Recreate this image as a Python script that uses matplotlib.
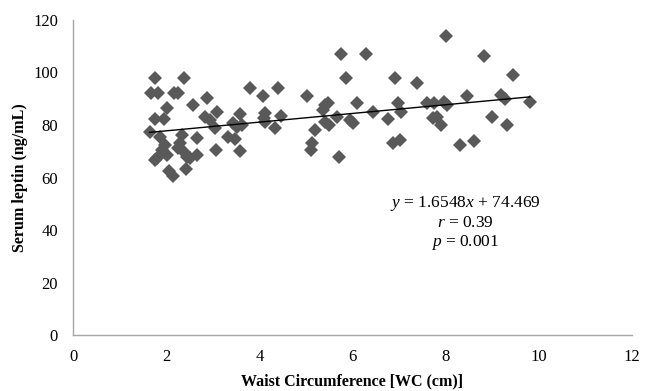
import numpy as np
import matplotlib
matplotlib.use("Agg")
import matplotlib.pyplot as plt

plt.rcParams["font.family"] = ["Liberation Serif", "DejaVu Serif"]
plt.rcParams["mathtext.fontset"] = "custom"
plt.rcParams["mathtext.rm"] = "Liberation Serif"
plt.rcParams["mathtext.it"] = "Liberation Serif:italic"

# waist circumference vs serum leptin
wc = [
    1.64, 1.76, 2.37, 1.67, 1.83, 2.17, 2.24, 2.01, 2.58, 2.87,
    1.76, 1.94, 1.87, 2.33, 2.66, 2.83, 2.94, 3.08, 3.05, 3.33,
    1.98, 1.90, 2.01, 1.80, 1.76, 2.30, 2.26, 2.37, 2.44, 2.51,
    2.66, 3.07, 2.05, 2.15, 2.43,
    3.59, 3.44, 3.62, 3.51, 3.48, 3.59, 3.79, 4.07, 4.39, 4.12,
    4.09, 4.12, 4.47, 4.34, 5.02, 5.41, 5.48, 5.37, 5.41, 5.50,
    5.20, 5.12, 5.11, 5.70, 5.75, 5.85, 6.09, 5.66, 5.95, 6.02,
    6.29, 6.91, 7.39, 6.43, 6.98, 7.05, 6.77, 6.86, 7.02, 7.61,
    7.75, 7.96, 8.02, 7.74, 7.81, 7.91, 8.01, 8.45, 8.31, 8.61,
    8.83, 8.99, 9.20, 9.27, 9.31, 9.45, 9.81,
]
leptin = [
    77.5, 98.0, 98.0, 92.1, 92.1, 92.1, 92.1, 86.6, 87.5, 90.1,
    82.3, 82.3, 75.6, 76.2, 75.2, 83.2, 82.0, 85.1, 78.7, 75.6,
    72.4, 70.5, 68.6, 67.3, 66.7, 73.0, 71.1, 69.8, 68.0, 67.3,
    68.6, 70.5, 62.3, 60.4, 63.2,
    84.2, 80.6, 80.0, 79.4, 74.5, 70.2, 94.0, 91.0, 94.0, 84.4,
    82.5, 81.3, 83.4, 78.7, 91.0, 87.6, 88.2, 85.7, 81.3, 80.0,
    78.1, 73.0, 70.5, 68.0, 107.0, 98.0, 88.2, 83.2, 82.0, 80.6,
    107.0, 98.0, 96.1, 85.1, 88.2, 85.1, 82.2, 73.0, 74.3, 88.2,
    88.2, 88.9, 87.6, 82.5, 83.2, 80.0, 114.0, 91.0, 72.2, 74.0,
    106.1, 83.2, 91.4, 90.0, 80.0, 99.0, 88.9,
]
slope = 1.6548
intercept = 74.469

fig = plt.figure(figsize=(6.54, 3.91), dpi=100)
ax = fig.add_axes([0.112, 0.143, 0.854, 0.806])

ax.plot(wc, leptin, linestyle="none", marker="D", markersize=7.5,
        color="#595959", markeredgewidth=0)

xs = np.array([min(wc), max(wc)])
ax.plot(xs, slope * xs + intercept, color="black", linewidth=1)

ax.text(8.42, 50.0, r"$y$ = 1.6548$x$ + 74.469", ha="center", va="center", fontsize=12.5)
ax.text(8.42, 42.6, r"$r$ = 0.39", ha="center", va="center", fontsize=12.5)
ax.text(8.42, 35.2, r"$p$ = 0.001", ha="center", va="center", fontsize=12.5)

ax.set_xlim(0, 12)
ax.set_ylim(0, 120)
ax.set_xticks(range(0, 13, 2))
ax.set_yticks(range(0, 121, 20))
ax.tick_params(length=0, labelsize=12)
ax.tick_params(axis="x", pad=10)
ax.tick_params(axis="y", pad=11)

for side in ["top", "right"]:
    ax.spines[side].set_visible(False)
for side in ["left", "bottom"]:
    ax.spines[side].set_color("#A6A6A6")
    ax.spines[side].set_linewidth(1)

ax.set_xlabel("Waist Circumference [WC (cm)]", fontsize=11.5, fontweight="bold", labelpad=6)
ax.set_ylabel("Serum leptin (ng/mL)", fontsize=11.5, fontweight="bold", labelpad=4)

fig.savefig("out.png", dpi=100)
